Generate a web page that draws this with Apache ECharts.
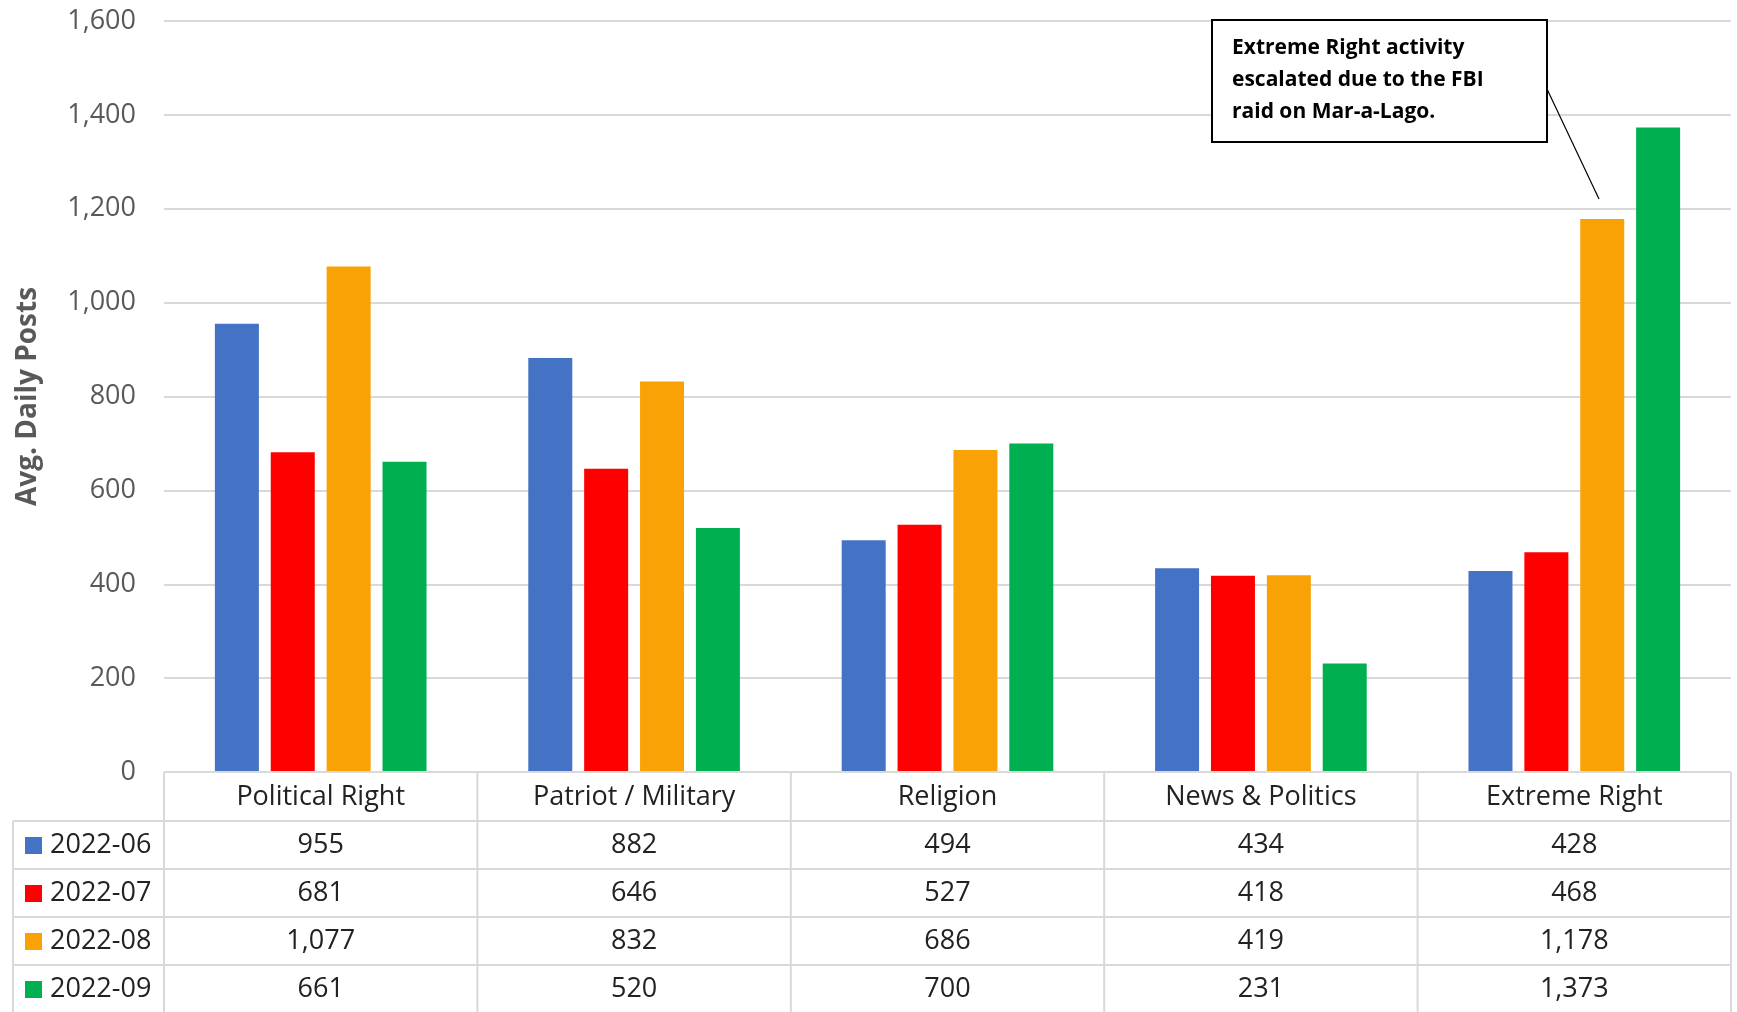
<!DOCTYPE html>
<html>
<head>
<meta charset="utf-8">
<script src="https://cdn.jsdelivr.net/npm/echarts@6/dist/echarts.min.js"></script>
<style>html,body{margin:0;padding:0;background:#fff;}#chart{width:1737px;height:1012px;}</style>
</head>
<body>
<div id="chart"></div>
<script>
var categories = ["Political Right", "Patriot / Military", "Religion", "News & Politics", "Extreme Right"];
var seriesNames = ["2022-06", "2022-07", "2022-08", "2022-09"];
var colors = ["#4472C4", "#FF0000", "#F9A205", "#00B050"];
var jun = [955, 882, 494, 434, 428];
var jul = [681, 646, 527, 418, 468];
var aug = [1077, 832, 686, 419, 1178];
var sep = [661, 520, 700, 231, 1373];
var values = [jun, jul, aug, sep];

var FONT = "Open Sans";
var gridL = 164, gridR = 1731, axisY = 772, rowH = 48;
var colW = (gridR - gridL) / categories.length;
var lineCol = "#d9d9d9";

function fmt(v) { return v.toLocaleString("en-US"); }

var g = [];
// table lines
for (var r = 0; r <= 4; r++) {
  var y = axisY + 49 + r * rowH;
  g.push({ type: "line", shape: { x1: 13, y1: y, x2: gridR, y2: y }, style: { stroke: lineCol, lineWidth: 2 } });
}
g.push({ type: "line", shape: { x1: gridL, y1: axisY, x2: gridR, y2: axisY }, style: { stroke: lineCol, lineWidth: 2 } });
for (var c = 0; c <= categories.length; c++) {
  var x = gridL + c * colW;
  g.push({ type: "line", shape: { x1: x, y1: axisY, x2: x, y2: 1012 }, style: { stroke: lineCol, lineWidth: 2 } });
}
g.push({ type: "line", shape: { x1: 13, y1: axisY + 49, x2: 13, y2: 1012 }, style: { stroke: lineCol, lineWidth: 2 } });
categories.forEach(function (name, i) {
  g.push({ type: "text", style: { text: name, x: gridL + (i + 0.5) * colW, y: axisY + 25, align: "center", verticalAlign: "middle", font: "27px '" + FONT + "'", fill: "#222" } });
});
seriesNames.forEach(function (name, s) {
  var cy = axisY + 49 + s * rowH + rowH / 2;
  g.push({ type: "rect", shape: { x: 25, y: cy - 8, width: 17, height: 17 }, style: { fill: colors[s] } });
  g.push({ type: "text", style: { text: name, x: 50, y: cy, verticalAlign: "middle", font: "27px '" + FONT + "'", fill: "#222" } });
  values[s].forEach(function (v, i) {
    g.push({ type: "text", style: { text: fmt(v), x: gridL + (i + 0.5) * colW, y: cy, align: "center", verticalAlign: "middle", font: "27px '" + FONT + "'", fill: "#222" } });
  });
});
// annotation
g.push({ type: "line", shape: { x1: 1547, y1: 89, x2: 1599, y2: 199 }, style: { stroke: "#000", lineWidth: 1.2 } });
g.push({ type: "rect", shape: { x: 1212, y: 20, width: 335, height: 122 }, style: { fill: "#fff", stroke: "#000", lineWidth: 2 } });
g.push({ type: "text", style: { text: "Extreme Right activity\nescalated due to the FBI\nraid on Mar-a-Lago.", x: 1232, y: 32, font: "bold 21px '" + FONT + "'", lineHeight: 32, fill: "#000" } });
g.forEach(function (e) { e.z = 100; });

var chart = echarts.init(document.getElementById("chart"));
chart.setOption({
  animation: false,
  textStyle: { fontFamily: FONT },
  grid: { left: gridL, right: 1737 - gridR, top: 21, bottom: 1012 - axisY },
  xAxis: { type: "category", data: categories, axisLine: { show: false }, axisTick: { show: false }, axisLabel: { show: false } },
  yAxis: {
    type: "value", min: 0, max: 1600, interval: 200,
    name: "Avg. Daily Posts", nameLocation: "middle", nameGap: 122,
    nameTextStyle: { fontSize: 28, fontWeight: "bold", color: "#595959" },
    axisLabel: { fontSize: 27, color: "#595959", margin: 28, formatter: function (v) { return fmt(v); } },
    splitLine: { lineStyle: { color: lineCol, width: 2 } }
  },
  series: seriesNames.map(function (n, s) {
    return { name: n, type: "bar", data: values[s], barWidth: 44, barGap: "27%", itemStyle: { color: colors[s] } };
  }),
  graphic: g
});
</script>
</body>
</html>
